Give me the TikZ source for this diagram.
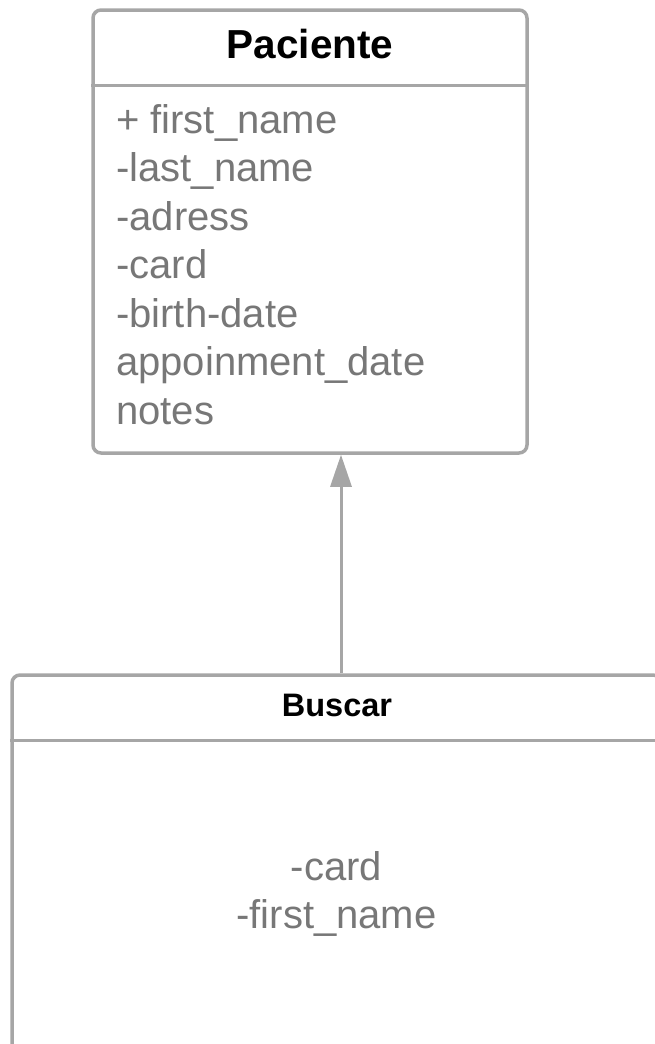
\documentclass[tikz,border=0pt]{standalone}
\usepackage{fontspec}
\setmainfont{Liberation Sans}
\usetikzlibrary{arrows.meta,positioning}
\definecolor{umlline}{HTML}{A6A6A6}
\definecolor{umltext}{HTML}{777777}

\begin{document}
\begin{tikzpicture}[x=1pt,y=-1pt,
	classbox/.style={draw=umlline, line width=3.5pt, rounded corners=8pt, fill=white, inner sep=0pt},
	classline/.style={draw=umlline, line width=3.5pt},
	classname/.style={font=\bfseries\fontsize{#1}{#1}\selectfont, anchor=base, inner sep=0pt},
	attr/.style={text=umltext, font=\fontsize{40}{48}\selectfont, inner sep=0pt},
	inherit/.style={draw=umlline, line width=3pt, -{Triangle[length=32pt, width=21pt, fill=umlline]}}]
	\useasboundingbox (0,0) rectangle (655,1044);
	\clip (0,0) rectangle (655,1044);

	\node[classbox, minimum width=434pt, minimum height=443pt] (paciente) at (310,231.5) {};
	\draw[classline] ([yshift=-77pt]paciente.north west) -- ([yshift=-77pt]paciente.north east);
	\node[classname=40.5] (pacientename) at (310,58) {Paciente};
	\foreach \txt [count=\i] in {+ first\_name, -last\_name, -adress, -card, -birth-date, appoinment\_date, notes} {
		\node[attr, anchor=base west] (attr\i) at (116,{133+48.5*(\i-1)}) {\txt};
	}

	\node[classbox, minimum width=649pt, minimum height=385pt] (buscar) at (336.5,867.5) {};
	\draw[classline] ([yshift=-67pt]buscar.north west) -- ([yshift=-67pt]buscar.north east);
	\node[classname=32.5] (buscarname) at (337,716) {Buscar};
	\node[attr, anchor=base] (buscarcard) at (336.5,880) {-card};
	\node[attr, anchor=base] (buscarfirst) at (336.5,928) {-first\_name};

	\coordinate (linkx) at (341,0);
	\draw[inherit] (buscar.north -| linkx) -- (paciente.south -| linkx);
\end{tikzpicture}
\end{document}
